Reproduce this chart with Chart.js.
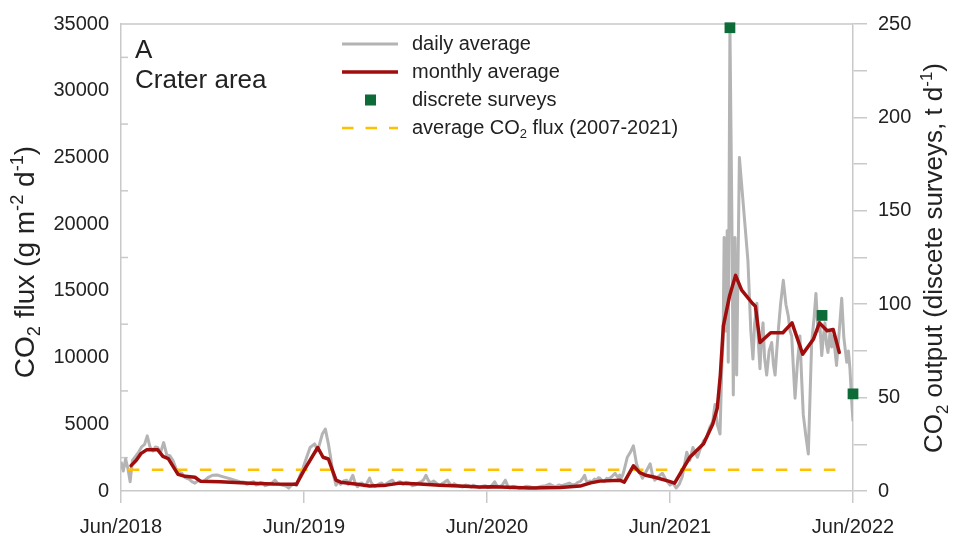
<!DOCTYPE html>
<html>
<head>
<meta charset="utf-8">
<script src="https://cdn.jsdelivr.net/npm/chart.js@4.4.1/dist/chart.umd.min.js"></script>
<style>
  html, body { margin: 0; padding: 0; background: #ffffff; }
  canvas { display: block; }
</style>
</head>
<body>
<canvas id="flux" width="953" height="543"></canvas>
<script>
// Time axis: months elapsed since June 2018
const xTickValues = [0, 12, 24, 36, 48];
const xTickLabels = ['Jun/2018', 'Jun/2019', 'Jun/2020', 'Jun/2021', 'Jun/2022'];

// Flux axis (g m-2 d-1): labelled ticks and the inner minor ticks
const leftTickValues = [0, 5000, 10000, 15000, 20000, 25000, 30000, 35000];
const leftMinorTicks = [2500, 7500, 12500, 17500, 22500, 27500, 32500];

// Output axis (t d-1)
const rightTickValues = [0, 25, 50, 75, 100, 125, 150, 175, 200, 225, 250];
const rightTickLabels = [0, 50, 100, 150, 200, 250];

// Daily average CO2 flux
const dailyMonths = [
  0.0, 0.15, 0.3, 0.45, 0.6, 0.75, 0.95, 1.15, 1.35, 1.55, 1.72, 1.9, 2.1, 2.25, 2.4, 2.6, 2.8, 3.0, 3.2, 3.4,
  3.6, 3.8, 4.0, 4.2, 4.45, 4.65, 4.85, 5.1, 5.4, 5.7, 6.0, 6.3, 6.6, 6.9, 7.2, 7.5, 7.8, 8.1, 8.25, 8.4,
  8.55, 8.7, 8.85, 9.0, 9.15, 9.3, 9.45, 9.6, 9.75, 9.9, 10.1, 10.25, 10.4, 10.55, 10.7, 10.85, 11.0, 11.15, 11.3, 11.4,
  11.5, 11.7, 11.9, 12.1, 12.4, 12.7, 12.9, 13.2, 13.4, 13.6, 13.75, 13.9, 14.1, 14.25, 14.4, 14.6, 14.8, 14.9, 15.0, 15.1,
  15.2, 15.35, 15.5, 15.65, 15.8, 15.95, 16.1, 16.2, 16.3, 16.4, 16.5, 16.65, 16.8, 16.95, 17.1, 17.25, 17.4, 17.6, 17.8, 17.95,
  18.1, 18.3, 18.5, 18.7, 18.95, 19.1, 19.3, 19.5, 19.7, 19.85, 20.0, 20.15, 20.3, 20.5, 20.7, 20.85, 21.0, 21.2, 21.4, 21.55,
  21.7, 21.85, 22.0, 22.2, 22.4, 22.6, 22.8, 22.95, 23.1, 23.3, 23.5, 23.7, 23.9, 24.05, 24.2, 24.35, 24.5, 24.65, 24.8, 25.0,
  25.2, 25.35, 25.5, 25.7, 25.9, 26.1, 26.3, 26.55, 26.8, 27.0, 27.2, 27.4, 27.6, 27.85, 28.1, 28.3, 28.5, 28.7, 28.9, 29.15,
  29.4, 29.6, 29.8, 29.95, 30.1, 30.25, 30.4, 30.5, 30.6, 30.75, 30.9, 31.05, 31.2, 31.3, 31.4, 31.55, 31.7, 31.85, 32.0, 32.2,
  32.4, 32.5, 32.6, 32.7, 32.8, 32.9, 33.0, 33.2, 33.4, 33.6, 33.8, 34.0, 34.2, 34.45, 34.7, 34.85, 35.0, 35.25, 35.5, 35.75,
  36.0, 36.2, 36.4, 36.6, 36.8, 37.1, 37.3, 37.5, 37.8, 38.0, 38.2, 38.4, 38.6, 38.8, 38.95, 39.1, 39.28, 39.4, 39.48, 39.55,
  39.65, 39.75, 39.82, 39.93, 40.05, 40.15, 40.26, 40.37, 40.55, 41.11, 41.3, 41.44, 41.55, 41.7, 41.8, 41.9, 42.0, 42.1, 42.2, 42.34,
  42.5, 42.67, 42.78, 42.89, 43.0, 43.1, 43.25, 43.43, 43.6, 43.76, 43.87, 43.98, 44.1, 44.2, 44.35, 44.52, 44.63, 44.74, 44.9, 45.07,
  45.18, 45.29, 45.45, 45.57, 45.7, 45.8, 45.95, 46.05, 46.16, 46.26, 46.36, 46.5, 46.6, 46.71, 46.82, 46.92, 47.1, 47.26, 47.4, 47.59,
  47.7, 47.8, 47.9, 48.0
];
const dailyFlux = [
  2200, 1500, 2400, 1700, 700, 2300, 2600, 2900, 3300, 3500, 4130, 3300, 3000, 3300, 3260, 2900, 3630, 2700, 2650, 2300,
  1700, 1400, 1330, 1000, 900, 700, 590, 800, 700, 1000, 1180, 1200, 1100, 1000, 900, 800, 690, 650, 500, 550,
  650, 700, 450, 500, 650, 600, 400, 450, 550, 600, 810, 600, 500, 450, 400, 350, 220, 400, 500, 550,
  400, 1050, 1600, 2280, 3260, 3530, 3020, 4270, 4640, 3530, 2500, 1330, 440, 700, 500, 750, 810, 500, 700, 950,
  1180, 600, 320, 550, 600, 400, 500, 750, 960, 650, 500, 350, 440, 550, 600, 400, 550, 700, 810, 550,
  600, 700, 500, 650, 590, 400, 450, 600, 700, 850, 1180, 800, 600, 750, 570, 400, 500, 650, 810, 550,
  400, 550, 440, 350, 300, 450, 400, 300, 440, 350, 250, 350, 400, 250, 300, 450, 690, 400, 300, 450,
  810, 400, 220, 350, 300, 200, 250, 350, 320, 250, 200, 300, 350, 400, 520, 400, 300, 450, 400, 500,
  590, 450, 500, 650, 700, 900, 1180, 800, 600, 750, 690, 900, 800, 1000, 960, 750, 700, 950, 900, 1100,
  1330, 1150, 1000, 1200, 960, 1200, 1600, 2530, 2900, 3390, 2060, 1400, 960, 1500, 2040, 1200, 810, 1100, 1330, 800,
  440, 600, 220, 500, 1050, 2900, 2300, 3260, 2530, 3200, 3760, 4000, 4740, 5200, 6480, 5000, 4270, 9500, 11100, 19000,
  12000, 19500, 9650, 34700, 21400, 7200, 19000, 8700, 25000, 17260, 12000, 9890, 12500, 14070, 11000, 9160, 11500, 12600, 10000, 8690,
  10500, 11130, 9500, 8690, 10500, 12000, 14000, 15790, 14000, 13090, 12000, 11620, 9000, 6950, 9500, 11620, 8500, 5720, 4200, 2780,
  7000, 11130, 13000, 14810, 12000, 13000, 10150, 11500, 12600, 11000, 10390, 12000, 10800, 11620, 10500, 9410, 12000, 14440, 11500, 9650,
  10500, 9160, 7000, 5230
];

// Monthly average CO2 flux
const monthlyMonths = [
  0.66, 1.0, 1.3, 1.7, 2.4, 2.75, 3.1, 3.74, 4.2, 4.85, 5.2, 6.5, 8.5, 10.0, 11.5, 12.0, 12.9, 13.25, 13.6, 14.1,
  14.4, 15.5, 16.3, 17.4, 18.3, 19.6, 20.9, 22.2, 23.5, 24.4, 26.8, 28.8, 30.1, 30.8, 31.4, 32.7, 33.0, 33.6, 34.0, 34.4,
  35.0, 35.9, 36.3, 37.3, 38.2, 38.8, 39.1, 39.3, 39.5, 39.9, 40.3, 40.7, 41.4, 41.6, 41.9, 42.6, 43.4, 44.0, 44.7, 45.4,
  45.8, 46.3, 46.7, 47.1
];
const monthlyFlux = [
  1900, 2300, 2800, 3100, 3100, 2600, 2430, 1250, 1100, 1030, 740, 700, 590, 520, 500, 1550, 3260, 2530, 2400, 810,
  660, 500, 370, 440, 590, 520, 440, 370, 300, 320, 220, 260, 370, 610, 740, 810, 660, 1890, 1400, 1180,
  1030, 740, 590, 2530, 3540, 5010, 6210, 8690, 12380, 14590, 16160, 15050, 14070, 13850, 11130, 11860, 11860, 12600, 10260, 11370,
  12600, 12010, 12110, 10390
];

// Discrete surveys of total CO2 output (t d-1)
const surveyMonths = [39.93, 45.97, 48.0];
const surveyOutput = [248, 94, 52];

// Long-term (2007-2021) mean flux and the span it is drawn over
const avgFlux = 1600;
const avgSpan = [0.45, 47.5];

const GRAY = '#b4b4b4';
const RED = '#a00d0d';
const GREEN = '#0c6b37';
const GOLD = '#ffc000';
const AXIS = '#c9c9c9';
const TEXT = '#222222';
const FAMILY = '"Liberation Sans", Arial, sans-serif';

function richWidth(ctx, parts, size) {
  let w = 0;
  for (const p of parts) {
    ctx.font = (p.k ? size * 0.65 : size) + 'px ' + FAMILY;
    w += ctx.measureText(p.t).width;
  }
  return w;
}
function drawRich(ctx, parts, x, y, size) {
  for (const p of parts) {
    const fs = p.k ? size * 0.65 : size;
    ctx.font = fs + 'px ' + FAMILY;
    const dy = p.k === 'sub' ? size * 0.22 : (p.k === 'sup' ? -size * 0.38 : 0);
    ctx.fillText(p.t, x, y + dy);
    x += ctx.measureText(p.t).width;
  }
}

const leftTitle = [{t: 'CO'}, {t: '2', k: 'sub'}, {t: ' flux (g m'}, {t: '-2', k: 'sup'}, {t: ' d'}, {t: '-1', k: 'sup'}, {t: ')'}];
const rightTitle = [{t: 'CO'}, {t: '2', k: 'sub'}, {t: ' output (discete surveys, t d'}, {t: '-1', k: 'sup'}, {t: ')'}];
const avgLegend = [{t: 'average CO'}, {t: '2', k: 'sub'}, {t: ' flux (2007-2021)'}];

const decor = {
  id: 'decor',
  beforeDatasetsDraw(chart) {
    const {ctx, chartArea: a, scales} = chart;
    ctx.save();
    ctx.strokeStyle = AXIS;
    ctx.lineWidth = 1.5;
    ctx.beginPath();
    ctx.moveTo(a.left, a.top);
    ctx.lineTo(a.right, a.top);
    ctx.stroke();
    // minor ticks on the flux axis point into the plot
    for (const v of leftMinorTicks) {
      const y = scales.y.getPixelForValue(v);
      ctx.beginPath();
      ctx.moveTo(a.left, y);
      ctx.lineTo(a.left + 7, y);
      ctx.stroke();
    }
    ctx.restore();
  },
  afterDraw(chart) {
    const {ctx, chartArea: a} = chart;
    ctx.save();
    ctx.fillStyle = TEXT;
    ctx.textBaseline = 'alphabetic';
    ctx.textAlign = 'left';

    // panel label
    ctx.font = '26px ' + FAMILY;
    ctx.fillText('A', a.left + 14, 58);
    ctx.fillText('Crater area', a.left + 14, 88);

    // legend
    const lx0 = 342, lx1 = 398, tx = 412, fs = 20;
    const rows = [44, 72, 100, 128];
    ctx.lineCap = 'butt';
    ctx.lineWidth = 3;
    ctx.strokeStyle = GRAY;
    ctx.beginPath(); ctx.moveTo(lx0, rows[0]); ctx.lineTo(lx1, rows[0]); ctx.stroke();
    ctx.lineWidth = 3.5;
    ctx.strokeStyle = RED;
    ctx.beginPath(); ctx.moveTo(lx0, rows[1]); ctx.lineTo(lx1, rows[1]); ctx.stroke();
    ctx.fillStyle = GREEN;
    ctx.fillRect(365, rows[2] - 5.5, 11, 11);
    ctx.lineWidth = 2.5;
    ctx.strokeStyle = GOLD;
    ctx.setLineDash([11.5, 12]);
    ctx.beginPath(); ctx.moveTo(lx0, rows[3]); ctx.lineTo(lx1, rows[3]); ctx.stroke();
    ctx.setLineDash([]);

    ctx.fillStyle = TEXT;
    ctx.font = fs + 'px ' + FAMILY;
    ctx.fillText('daily average', tx, rows[0] + 5.5);
    ctx.fillText('monthly average', tx, rows[1] + 5.5);
    ctx.fillText('discrete surveys', tx, rows[2] + 5.5);
    drawRich(ctx, avgLegend, tx, rows[3] + 5.5, fs);

    // axis titles
    let ts = 28;
    let w = richWidth(ctx, leftTitle, ts);
    ctx.save();
    ctx.translate(34, 262);
    ctx.rotate(-Math.PI / 2);
    drawRich(ctx, leftTitle, -w / 2, 0, ts);
    ctx.restore();

    ts = 26;
    w = richWidth(ctx, rightTitle, ts);
    ctx.save();
    ctx.translate(942, 258);
    ctx.rotate(-Math.PI / 2);
    drawRich(ctx, rightTitle, -w / 2, 0, ts);
    ctx.restore();

    ctx.restore();
  }
};

const tickFont = {family: FAMILY, size: 20};

new Chart(document.getElementById('flux'), {
  type: 'line',
  data: {
    datasets: [
      {
        label: 'daily average',
        data: dailyMonths.map((m, i) => ({x: m, y: dailyFlux[i]})),
        borderColor: GRAY,
        borderWidth: 3,
        pointRadius: 0,
        tension: 0,
        borderJoinStyle: 'round',
        yAxisID: 'y',
        order: 4
      },
      {
        label: 'average CO2 flux (2007-2021)',
        data: avgSpan.map(m => ({x: m, y: avgFlux})),
        borderColor: GOLD,
        borderWidth: 2.5,
        borderDash: [11.5, 12.5],
        pointRadius: 0,
        yAxisID: 'y',
        order: 3
      },
      {
        label: 'monthly average',
        data: monthlyMonths.map((m, i) => ({x: m, y: monthlyFlux[i]})),
        borderColor: RED,
        borderWidth: 3.5,
        pointRadius: 0,
        tension: 0,
        borderJoinStyle: 'round',
        borderCapStyle: 'round',
        yAxisID: 'y',
        order: 2
      },
      {
        label: 'discrete surveys',
        data: surveyMonths.map((m, i) => ({x: m, y: surveyOutput[i]})),
        showLine: false,
        pointStyle: 'rect',
        pointRadius: 7.6,
        pointBackgroundColor: GREEN,
        pointBorderColor: GREEN,
        pointBorderWidth: 0,
        clip: false,
        yAxisID: 'y1',
        order: 1
      }
    ]
  },
  options: {
    responsive: false,
    animation: false,
    events: [],
    layout: {padding: {top: 16, left: 0, right: 0, bottom: 0}},
    plugins: {legend: {display: false}, tooltip: {enabled: false}},
    scales: {
      x: {
        type: 'linear',
        min: 0,
        max: 48,
        afterBuildTicks: s => { s.ticks = xTickValues.map(v => ({value: v})); },
        afterFit: s => { s.height = 52; },
        ticks: {
          callback: v => xTickLabels[xTickValues.indexOf(v)],
          autoSkip: false,
          maxRotation: 0,
          minRotation: 0,
          padding: 12,
          font: tickFont,
          color: TEXT
        },
        grid: {drawOnChartArea: false, drawTicks: true, tickLength: 12, color: AXIS, lineWidth: 1.5},
        border: {color: AXIS, width: 1.5}
      },
      y: {
        position: 'left',
        min: 0,
        max: 35000,
        afterBuildTicks: s => { s.ticks = leftTickValues.map(v => ({value: v})); },
        afterFit: s => { s.width = 121; },
        ticks: {callback: v => String(v), padding: 12, font: tickFont, color: TEXT},
        grid: {display: false, drawTicks: false},
        border: {color: AXIS, width: 1.5}
      },
      y1: {
        position: 'right',
        min: 0,
        max: 250,
        afterBuildTicks: s => { s.ticks = rightTickValues.map(v => ({value: v})); },
        afterFit: s => { s.width = 100; },
        ticks: {
          callback: v => rightTickLabels.includes(v) ? String(v) : '',
          padding: 11,
          font: tickFont,
          color: TEXT
        },
        grid: {drawOnChartArea: false, drawTicks: true, tickLength: 14, color: AXIS, lineWidth: 1.5},
        border: {color: AXIS, width: 1.5}
      }
    }
  },
  plugins: [decor]
});
</script>
</body>
</html>
